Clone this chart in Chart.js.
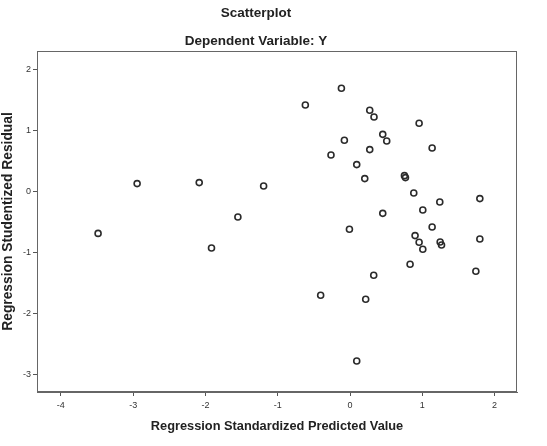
<!DOCTYPE html>
<html>
<head>
<meta charset="utf-8">
<script src="https://cdn.jsdelivr.net/npm/chart.js@4/dist/chart.umd.min.js"></script>
<style>
  html, body { margin: 0; padding: 0; background: #fff; }
  #wrap { width: 547px; height: 446px; position: relative; }
</style>
</head>
<body>
<div id="wrap"><canvas id="c" width="547" height="446"></canvas></div>
<script>
const chartTitle = "Scatterplot";
const chartSubtitle = "Dependent Variable: Y";
const xAxisTitle = "Regression Standardized Predicted Value";
const yAxisTitle = "Regression Studentized Residual";
const xTickValues = [-4, -3, -2, -1, 0, 1, 2];
const yTickValues = [-3, -2, -1, 0, 1, 2];

const predictedValues = [
  -3.485, -2.945, -2.086, -1.195, -1.551, -1.916,
  -0.119, -0.618, 0.273, 0.332, 0.956, 0.453, -0.078, 0.508, 1.136, 0.273,
  -0.263, 0.093, 0.204, 0.753, 0.767, 0.882, 1.242, 1.796, 0.453, 1.007,
  -0.008, 1.136, 0.900, 0.956, 1.247, 1.266, 1.796, 1.007, 0.831, 1.741,
  0.328, -0.406, 0.217, 0.093
];
const studentizedResiduals = [
  -0.690, 0.126, 0.143, 0.087, -0.421, -0.930,
  1.689, 1.415, 1.328, 1.218, 1.115, 0.934, 0.836, 0.825, 0.710, 0.684,
  0.595, 0.438, 0.208, 0.257, 0.225, -0.028, -0.175, -0.120, -0.361, -0.307,
  -0.623, -0.585, -0.726, -0.836, -0.831, -0.880, -0.782, -0.951, -1.197, -1.311,
  -1.377, -1.705, -1.770, -2.782
];

const points = predictedValues.map((x, i) => ({ x: x, y: studentizedResiduals[i] }));

const FONT = "'Liberation Sans', Arial, sans-serif";

const framePlugin = {
  id: 'frame',
  afterDatasetsDraw(chart) {
    const a = chart.chartArea, ctx = chart.ctx;
    ctx.save();
    ctx.strokeStyle = '#666';
    ctx.lineWidth = 1;
    ctx.strokeRect(Math.round(a.left) + 0.5, Math.round(a.top) + 0.5,
                   Math.round(a.right - a.left) - 1, Math.round(a.bottom - a.top) - 1);
    ctx.restore();
  }
};

const titlePlugin = {
  id: 'titles',
  afterDraw(chart) {
    const ctx = chart.ctx;
    ctx.save();
    ctx.fillStyle = '#222';
    ctx.textAlign = 'center';
    ctx.textBaseline = 'middle';
    ctx.font = "bold 13.5px " + FONT;
    ctx.fillText(chartTitle, 256, 13);
    ctx.fillText(chartSubtitle, 256, 41);
    ctx.restore();
  }
};

new Chart(document.getElementById('c'), {
  type: 'scatter',
  data: {
    datasets: [{
      data: points,
      pointStyle: 'circle',
      pointRadius: 3,
      pointHoverRadius: 3,
      borderWidth: 1.6,
      borderColor: '#2b2b2b',
      backgroundColor: 'rgba(0,0,0,0)'
    }]
  },
  options: {
    responsive: false,
    animation: false,
    events: [],
    layout: { padding: { top: 51, right: 30, left: 0, bottom: 0 } },
    plugins: { legend: { display: false }, tooltip: { enabled: false }, title: { display: false } },
    scales: {
      x: {
        type: 'linear',
        min: -4.33, max: 2.31,
        afterBuildTicks: s => { s.ticks = xTickValues.map(v => ({ value: v })); },
        afterFit: s => { s.height = 54; },
        grid: { display: true, drawOnChartArea: false, drawTicks: true, tickLength: 4, color: '#555' },
        border: { display: true, color: '#666' },
        ticks: { color: '#333', font: { family: FONT, size: 9 }, padding: 4, maxRotation: 0 },
        title: { display: true, text: xAxisTitle, color: '#222', font: { family: FONT, size: 12.8, weight: 'bold' }, padding: { top: 4, bottom: 12 } }
      },
      y: {
        type: 'linear',
        min: -3.29, max: 2.30,
        afterBuildTicks: s => { s.ticks = yTickValues.map(v => ({ value: v })); },
        afterFit: s => { s.width = 37; },
        grid: { display: true, drawOnChartArea: false, drawTicks: true, tickLength: 4, color: '#555' },
        border: { display: true, color: '#666' },
        ticks: { color: '#333', font: { family: FONT, size: 9 }, padding: 2 },
        title: { display: true, text: yAxisTitle, color: '#222', font: { family: FONT, size: 13.8, weight: 'bold' }, padding: { top: 0, bottom: 0 } }
      }
    }
  },
  plugins: [framePlugin, titlePlugin]
});
</script>
</body>
</html>
